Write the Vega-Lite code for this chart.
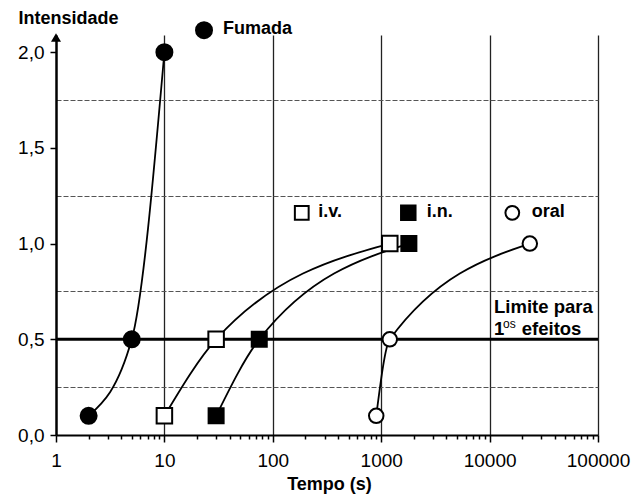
{
  "$schema": "https://vega.github.io/schema/vega-lite/v6.json",
  "width": 542,
  "height": 400,
  "autosize": {"type": "none"},
  "padding": {"left": 56, "top": 35, "right": 35, "bottom": 61},
  "background": "white",
  "config": {
    "view": {"stroke": null},
    "font": "Liberation Sans",
    "text": {"font": "Liberation Sans", "fontWeight": "bold", "fontSize": 18, "color": "black", "align": "left", "baseline": "middle"}
  },
  "datasets": {
    "curvas": [
      {"serie": "Fumada", "t": 2, "intensidade": 0.1},
      {"serie": "Fumada", "t": 5, "intensidade": 0.5},
      {"serie": "Fumada", "t": 10, "intensidade": 2.0},
      {"serie": "i.v.", "t": 10, "intensidade": 0.1},
      {"serie": "i.v.", "t": 30, "intensidade": 0.5},
      {"serie": "i.v.", "t": 1200, "intensidade": 1.0},
      {"serie": "i.n.", "t": 30, "intensidade": 0.1},
      {"serie": "i.n.", "t": 75, "intensidade": 0.5},
      {"serie": "i.n.", "t": 1800, "intensidade": 1.0},
      {"serie": "oral", "t": 900, "intensidade": 0.1},
      {"serie": "oral", "t": 1200, "intensidade": 0.5},
      {"serie": "oral", "t": 23500, "intensidade": 1.0}
    ],
    "um": [{}]
  },
  "layer": [
    {
      "data": {"name": "curvas"},
      "mark": {"type": "line", "interpolate": "monotone", "color": "black", "strokeWidth": 1.8},
      "encoding": {
        "x": {
          "field": "t", "type": "quantitative",
          "scale": {"type": "log", "domain": [1, 100000], "nice": false},
          "axis": {
            "values": [1,2,3,4,5,6,7,8,9,10,20,30,40,50,60,70,80,90,100,200,300,400,500,600,700,800,900,1000,2000,3000,4000,5000,6000,7000,8000,9000,10000,20000,30000,40000,50000,60000,70000,80000,90000,100000],
            "labelExpr": "indexof([1,10,100,1000,10000,100000], datum.value) >= 0 ? format(datum.value, 'd') : ''",
            "labelFont": "Liberation Sans", "labelFontSize": 19, "labelColor": "black",
            "labelPadding": 9, "labelOverlap": false, "labelFlush": false,
            "domainColor": "black", "domainWidth": 2,
            "tickColor": "black", "tickWidth": 1.5,
            "tickSize": {"condition": {"test": "indexof([1,10,100,1000,10000,100000], datum.value) >= 0", "value": 7}, "value": 4},
            "grid": true,
            "gridColor": "#222", "gridWidth": 1.3,
            "gridOpacity": {"condition": {"test": "indexof([10,100,1000,10000,100000], datum.value) >= 0", "value": 1}, "value": 0},
            "title": "Tempo (s)",
            "titleFont": "Liberation Sans", "titleFontSize": 18, "titleFontWeight": "bold", "titleColor": "black",
            "titleBaseline": "alphabetic", "titleAlign": "center", "titleX": 273, "titleY": 54
          }
        },
        "y": {
          "field": "intensidade", "type": "quantitative",
          "scale": {"domain": [0, 2.09], "nice": false, "zero": true},
          "axis": {
            "values": [0, 0.25, 0.5, 0.75, 1, 1.25, 1.5, 1.75, 2],
            "labelExpr": "(datum.value * 4) % 2 == 1 ? '' : replace(format(datum.value, '.1f'), '.', ',')",
            "labelFont": "Liberation Sans", "labelFontSize": 19, "labelColor": "black",
            "labelPadding": 6, "labelOverlap": false, "labelFlush": false,
            "domainColor": "black", "domainWidth": 2.5,
            "tickColor": "black", "tickWidth": 1.5, "tickSize": 6,
            "tickOpacity": {"condition": {"test": "(datum.value * 4) % 2 == 1", "value": 0}, "value": 1},
            "grid": true,
            "gridColor": "#555", "gridWidth": 1, "gridDash": [5, 2],
            "gridOpacity": {"condition": {"test": "(datum.value * 4) % 2 == 1", "value": 1}, "value": 0},
            "title": "Intensidade",
            "titleFont": "Liberation Sans", "titleFontSize": 18, "titleFontWeight": "bold", "titleColor": "black",
            "titleAngle": 0, "titleAlign": "left", "titleBaseline": "middle", "titleX": -38, "titleY": -17
          }
        },
        "detail": {"field": "serie"}
      }
    },
    {
      "data": {"name": "um"},
      "mark": {"type": "rule", "color": "black", "strokeWidth": 3},
      "encoding": {
        "y": {"datum": 0.5, "type": "quantitative"}
      }
    },
    {
      "data": {"name": "curvas"},
      "mark": {"type": "point", "filled": true, "opacity": 1, "stroke": "black", "strokeWidth": 2},
      "encoding": {
        "x": {"field": "t", "type": "quantitative"},
        "y": {"field": "intensidade", "type": "quantitative"},
        "shape": {"field": "serie", "scale": {"domain": ["Fumada", "i.v.", "i.n.", "oral"], "range": ["circle", "square", "square", "circle"]}, "legend": null},
        "fill": {"field": "serie", "scale": {"domain": ["Fumada", "i.v.", "i.n.", "oral"], "range": ["black", "white", "black", "white"]}, "legend": null},
        "size": {"field": "serie", "scale": {"domain": ["Fumada", "i.v.", "i.n.", "oral"], "range": [256, 210, 240, 190]}, "legend": null}
      }
    },
    {
      "data": {"name": "um"},
      "mark": {"type": "point", "shape": "circle", "filled": true, "fill": "black", "stroke": "black", "strokeWidth": 2, "size": 256, "opacity": 1},
      "encoding": {"x": {"datum": 23.2, "type": "quantitative"}, "y": {"datum": 2.115, "type": "quantitative"}}
    },
    {
      "data": {"name": "um"},
      "mark": {"type": "text", "text": "Fumada"},
      "encoding": {"x": {"datum": 34.7, "type": "quantitative"}, "y": {"datum": 2.12, "type": "quantitative"}}
    },
    {
      "data": {"name": "um"},
      "mark": {"type": "point", "shape": "square", "filled": true, "fill": "white", "stroke": "black", "strokeWidth": 2, "size": 190, "opacity": 1},
      "encoding": {"x": {"datum": 185, "type": "quantitative"}, "y": {"datum": 1.161, "type": "quantitative"}}
    },
    {
      "data": {"name": "um"},
      "mark": {"type": "text", "text": "i.v."},
      "encoding": {"x": {"datum": 263, "type": "quantitative"}, "y": {"datum": 1.165, "type": "quantitative"}}
    },
    {
      "data": {"name": "um"},
      "mark": {"type": "point", "shape": "square", "filled": true, "fill": "black", "stroke": "black", "strokeWidth": 2, "size": 210, "opacity": 1},
      "encoding": {"x": {"datum": 1778, "type": "quantitative"}, "y": {"datum": 1.161, "type": "quantitative"}}
    },
    {
      "data": {"name": "um"},
      "mark": {"type": "text", "text": "i.n."},
      "encoding": {"x": {"datum": 2630, "type": "quantitative"}, "y": {"datum": 1.165, "type": "quantitative"}}
    },
    {
      "data": {"name": "um"},
      "mark": {"type": "point", "shape": "circle", "filled": true, "fill": "white", "stroke": "black", "strokeWidth": 2, "size": 190, "opacity": 1},
      "encoding": {"x": {"datum": 16200, "type": "quantitative"}, "y": {"datum": 1.161, "type": "quantitative"}}
    },
    {
      "data": {"name": "um"},
      "mark": {"type": "text", "text": "oral"},
      "encoding": {"x": {"datum": 24450, "type": "quantitative"}, "y": {"datum": 1.165, "type": "quantitative"}}
    },
    {
      "data": {"name": "um"},
      "mark": {"type": "text", "text": "Limite para", "fontSize": 18.5},
      "encoding": {"x": {"datum": 10990, "type": "quantitative"}, "y": {"datum": 0.668, "type": "quantitative"}}
    },
    {
      "data": {"name": "um"},
      "mark": {"type": "text", "text": "1", "fontSize": 18.5},
      "encoding": {"x": {"datum": 10990, "type": "quantitative"}, "y": {"datum": 0.552, "type": "quantitative"}}
    },
    {
      "data": {"name": "um"},
      "mark": {"type": "text", "text": "os", "fontSize": 12, "fontWeight": "normal"},
      "encoding": {"x": {"datum": 13300, "type": "quantitative"}, "y": {"datum": 0.578, "type": "quantitative"}}
    },
    {
      "data": {"name": "um"},
      "mark": {"type": "text", "text": "efeitos", "fontSize": 18.5},
      "encoding": {"x": {"datum": 19800, "type": "quantitative"}, "y": {"datum": 0.552, "type": "quantitative"}}
    },
    {
      "data": {"name": "um"},
      "mark": {"type": "point", "shape": "triangle-up", "filled": true, "fill": "black", "size": 100, "opacity": 1},
      "encoding": {"x": {"datum": 1, "type": "quantitative"}, "y": {"datum": 2.077, "type": "quantitative"}}
    }
  ]
}
